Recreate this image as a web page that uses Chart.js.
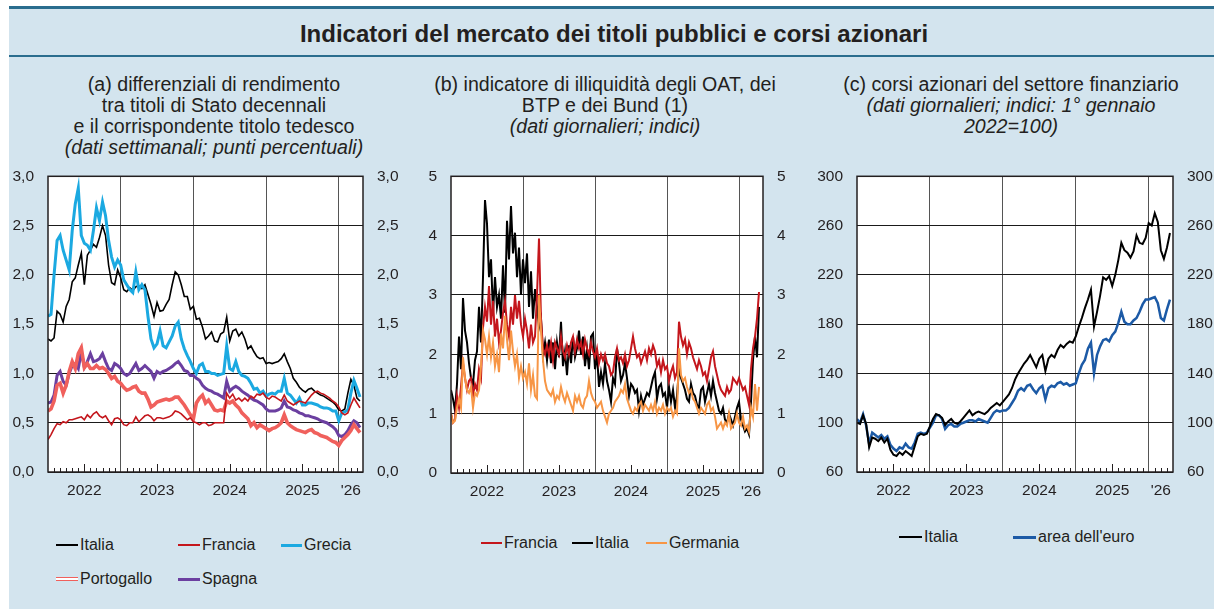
<!DOCTYPE html>
<html lang="it">
<head>
<meta charset="utf-8">
<script src="https://cdn.jsdelivr.net/npm/chart.js@4.4.1/dist/chart.umd.min.js"></script>
<style>
  body { margin: 0; width: 1214px; height: 609px; overflow: hidden; background: #fff; position: relative;
         font-family: "Liberation Sans", Arial, sans-serif; color: #231f20; }
  #sfondo { position: absolute; left: 9px; top: 6px; width: 1205px; height: 603px; background: #d3e4ee; }
  .riga { position: absolute; left: 9px; width: 1205px; background: #2a6d8e; }
  #titolo { position: absolute; left: 0; width: 1228px; top: 20px; text-align: center; font-weight: bold; font-size: 24px; }
  .sottotitolo { position: absolute; top: 74px; text-align: center; font-size: 19.6px; line-height: 21px; white-space: nowrap; }
  canvas { position: absolute; top: 153px; }
  .voce { position: absolute; display: flex; align-items: center; font-size: 16px; white-space: nowrap; height: 18px; }
  .tratto { display: inline-block; height: 2px; margin-right: 2px; }
  .doppio { display: inline-block; height: 2px; margin-right: 2px; background: #fff; border-top: 1px solid #f0605c; border-bottom: 1px solid #f0605c; }
</style>
</head>
<body>
<div id="sfondo"></div>
<div class="riga" style="top:6px;height:3px"></div>
<div class="riga" style="top:55px;height:2px"></div>
<div id="titolo">Indicatori del mercato dei titoli pubblici e corsi azionari</div>

<div class="sottotitolo" style="left:14px;width:400px">(a) differenziali di rendimento<br>tra titoli di Stato decennali<br>e il corrispondente titolo tedesco<br><i>(dati settimanali; punti percentuali)</i></div>
<div class="sottotitolo" style="left:405px;width:400px">(b) indicatore di illiquidità degli OAT, dei<br>BTP e dei Bund (1)<br><i>(dati giornalieri; indici)</i></div>
<div class="sottotitolo" style="left:811px;width:400px">(c) corsi azionari del settore finanziario<br><i>(dati giornalieri; indici: 1° gennaio<br>2022=100)</i></div>

<canvas id="graficoA" width="410" height="352" style="left:0px"></canvas>
<canvas id="graficoB" width="405" height="353" style="left:400px"></canvas>
<canvas id="graficoC" width="409" height="352" style="left:805px"></canvas>

<div class="voce" style="left:56px;top:536px"><span class="tratto" style="width:22px;background:#000"></span>Italia</div>
<div class="voce" style="left:178px;top:536px"><span class="tratto" style="width:22px;background:#c4161c"></span>Francia</div>
<div class="voce" style="left:281px;top:536px"><span class="tratto" style="width:21px;height:3px;background:#1ba9e1"></span>Grecia</div>
<div class="voce" style="left:56px;top:570px"><span class="doppio" style="width:22px"></span>Portogallo</div>
<div class="voce" style="left:178px;top:570px"><span class="tratto" style="width:22px;height:3px;background:#6b3fa0"></span>Spagna</div>

<div class="voce" style="left:481px;top:534px"><span class="tratto" style="width:21px;background:#c4161c"></span>Francia</div>
<div class="voce" style="left:572px;top:534px"><span class="tratto" style="width:21px;background:#000"></span>Italia</div>
<div class="voce" style="left:646px;top:534px"><span class="tratto" style="width:21px;background:#f79646"></span>Germania</div>

<div class="voce" style="left:899px;top:528px"><span class="tratto" style="width:23px;background:#000"></span>Italia</div>
<div class="voce" style="left:1013px;top:528px"><span class="tratto" style="width:23px;height:3px;background:#1c5aa6"></span>area dell'euro</div>

<script>
// asse temporale comune: da gennaio 2022 a fine aprile 2026
const inizio = 2022;
const fine = 2026 + 4 / 12;
const tacche = [2022, 2022.5, 2023, 2023.5, 2024, 2024.5, 2025, 2025.5, 2026, 2026 + 2 / 12, fine];

// (a) differenziali, un valore ogni mezzo mese
const passoA = 1 / 24;
const italiaA = [1.35,1.33,1.36,1.63,1.60,1.52,1.68,1.75,1.93,1.97, 2.10,2.22,1.90,2.20,2.25,2.31,2.28,2.38,2.50,2.40,
  2.10,1.92,1.90,2.05,1.97,1.85,1.83,1.87,1.84,1.88, 1.89,1.86,1.90,1.80,1.70,1.58,1.72,1.63,1.64,1.70,
  1.75,1.90,2.03,2.00,1.90,1.78,1.78,1.65,1.68,1.55, 1.56,1.47,1.35,1.38,1.42,1.33,1.32,1.40,1.42,1.57,
  1.33,1.43,1.45,1.38,1.42,1.35,1.25,1.28,1.22,1.17, 1.15,1.16,1.10,1.11,1.10,1.11,1.12,1.15,1.20,1.12,
  1.05,0.95,0.91,0.86,0.83,0.81,0.84,0.85,0.82,0.80, 0.78,0.77,0.75,0.73,0.71,0.68,0.63,0.62,0.64,0.80,
  0.94,0.88,0.75,0.72];
const franciaA = [0.33,0.38,0.44,0.49,0.48,0.51,0.50,0.53,0.53,0.54, 0.55,0.56,0.53,0.58,0.55,0.59,0.61,0.57,0.55,0.57,
  0.52,0.48,0.54,0.55,0.53,0.48,0.47,0.50,0.50,0.56, 0.51,0.54,0.57,0.58,0.56,0.52,0.55,0.55,0.54,0.55,
  0.56,0.58,0.62,0.61,0.59,0.56,0.53,0.55,0.51,0.50, 0.48,0.50,0.50,0.47,0.48,0.50,0.50,0.50,0.50,0.80,
  0.75,0.79,0.73,0.75,0.72,0.75,0.72,0.77,0.75,0.79, 0.78,0.80,0.76,0.74,0.77,0.76,0.74,0.72,0.78,0.72,
  0.70,0.68,0.70,0.72,0.71,0.70,0.74,0.78,0.81,0.82, 0.80,0.79,0.77,0.75,0.72,0.70,0.66,0.60,0.58,0.60,
  0.68,0.75,0.70,0.65];
const greciaA = [1.58,1.60,2.00,2.35,2.40,2.25,2.15,2.05,2.45,2.72, 2.88,2.40,2.32,2.30,2.25,2.45,2.68,2.55,2.74,2.60,
  2.35,2.18,2.08,2.15,2.10,1.95,1.90,1.85,1.82,2.03, 1.85,1.90,1.85,1.58,1.35,1.26,1.30,1.43,1.28,1.26,
  1.32,1.38,1.48,1.52,1.35,1.25,1.18,1.12,1.05,1.00, 1.08,1.10,1.02,1.02,1.00,1.00,0.98,0.99,1.00,1.28,
  1.05,1.03,1.12,1.02,0.98,0.97,0.95,0.90,0.84,0.85, 0.80,0.82,0.77,0.79,0.80,0.79,0.82,0.82,0.95,0.80,
  0.78,0.74,0.70,0.75,0.68,0.68,0.70,0.70,0.69,0.68, 0.66,0.65,0.65,0.64,0.62,0.62,0.52,0.60,0.61,0.63,
  0.80,0.93,0.85,0.76];
const portogalloA = [0.62,0.64,0.72,0.88,0.90,0.80,0.88,1.02,1.12,1.05, 1.20,1.26,1.06,1.10,1.05,1.05,1.08,1.05,1.06,1.04,
  1.00,0.95,0.97,0.92,0.90,0.86,0.83,0.84,0.86,0.87, 0.82,0.80,0.80,0.74,0.66,0.68,0.71,0.72,0.73,0.74,
  0.73,0.74,0.76,0.76,0.72,0.68,0.63,0.58,0.54,0.70, 0.75,0.78,0.70,0.73,0.68,0.63,0.62,0.63,0.62,0.72,
  0.70,0.72,0.68,0.65,0.60,0.57,0.54,0.47,0.50,0.45, 0.48,0.46,0.44,0.42,0.44,0.45,0.47,0.50,0.58,0.50,
  0.47,0.45,0.43,0.42,0.41,0.40,0.42,0.43,0.40,0.39, 0.37,0.36,0.35,0.33,0.31,0.30,0.27,0.32,0.35,0.38,
  0.42,0.48,0.44,0.40];
const spagnaA = [0.70,0.71,0.78,0.98,1.02,0.92,0.88,1.00,1.08,1.10, 1.05,1.22,1.06,1.12,1.20,1.12,1.13,1.15,1.20,1.12,
  1.05,1.03,1.10,1.08,1.05,1.00,0.98,1.00,1.05,1.10, 1.03,1.05,1.08,1.05,1.02,0.95,1.02,1.00,1.02,1.03,
  1.05,1.07,1.10,1.12,1.08,1.03,1.02,0.98,0.98,0.95, 0.93,0.88,0.85,0.83,0.82,0.80,0.79,0.77,0.75,0.92,
  0.82,0.85,0.87,0.85,0.82,0.80,0.78,0.75,0.73,0.72, 0.70,0.68,0.64,0.62,0.62,0.62,0.63,0.65,0.72,0.66,
  0.65,0.63,0.62,0.60,0.59,0.57,0.57,0.56,0.55,0.54, 0.52,0.51,0.50,0.48,0.46,0.43,0.37,0.36,0.38,0.42,
  0.48,0.52,0.50,0.45];

// (b) illiquidità, tre valori al mese
const passoB = 1 / 36;
const franciaB = [1.00,0.85,0.90,1.30,1.10,1.45,1.85,1.60,1.40,1.55, 1.60,1.30,1.50,1.40,1.75,1.60,2.45,2.80,2.55,3.15,
  2.50,2.90,2.30,2.60,2.20,2.40,2.70,2.90,2.50,2.30, 2.80,2.50,3.00,2.60,2.90,2.50,2.30,2.60,2.40,2.10,
  2.50,2.20,2.30,3.00,3.95,2.60,2.10,2.00,2.15,2.00, 2.20,1.90,2.20,2.10,2.00,2.30,2.05,1.95,2.15,2.00,
  2.20,2.30,2.05,2.25,2.10,2.20,2.00,2.25,2.10,2.00, 2.20,2.05,1.95,2.10,1.85,2.00,1.90,2.00,1.85,1.80,
  1.65,1.70,1.95,2.10,1.90,1.95,1.85,2.00,1.80,1.90, 2.10,2.30,2.10,1.95,2.00,1.85,1.95,2.05,1.90,2.10,
  2.00,2.15,2.05,1.80,1.90,1.70,1.90,1.75,1.80,1.55, 1.70,1.80,1.60,1.70,2.55,2.30,2.15,2.25,2.00,2.20,
  2.10,1.95,1.85,1.75,1.90,1.80,1.65,1.70,1.55,1.75, 1.95,2.05,1.80,1.65,1.50,1.40,1.35,1.30,1.45,1.35,
  1.40,1.60,1.55,1.50,1.60,1.50,1.40,1.45,1.30,1.15, 1.75,2.10,2.30,2.60,3.05];
const italiaB = [1.40,1.25,1.05,1.50,2.30,1.75,2.95,2.40,2.20,1.85, 1.60,1.50,1.90,2.05,2.80,2.20,3.30,4.60,4.20,3.30,
  3.60,2.70,3.30,2.80,3.00,2.60,3.50,2.70,4.25,3.60, 4.50,3.70,4.05,3.30,3.80,3.00,3.60,3.20,3.70,2.80,
  3.40,2.60,3.10,2.80,2.45,2.60,2.00,2.20,1.90,2.25, 1.85,2.20,1.75,2.20,1.95,2.55,1.80,2.05,1.65,2.15,
  1.85,2.30,1.95,2.10,2.40,2.00,2.30,1.80,2.10,1.75, 2.30,2.35,1.75,2.00,1.45,1.70,1.50,1.85,1.55,1.40,
  1.20,1.60,1.50,2.10,1.85,1.55,1.65,1.85,1.60,1.30, 1.50,1.45,1.35,1.40,1.05,1.30,1.15,1.25,1.35,1.30,
  1.45,1.60,1.70,1.25,1.45,1.50,1.30,1.35,1.10,1.45, 1.20,1.40,1.10,1.30,1.75,1.60,1.50,1.40,1.25,1.20,
  1.50,1.35,1.30,1.15,1.10,1.40,1.45,1.20,1.35,1.50, 1.30,1.55,1.35,1.20,1.05,1.00,1.10,0.90,0.85,1.00,
  0.90,0.80,0.95,1.10,1.20,0.90,0.80,0.70,0.75,0.65, 1.20,1.90,2.30,1.95,2.80];
const germaniaB = [1.00,0.85,0.88,1.10,1.25,1.10,1.95,1.60,1.40,1.35, 1.45,1.10,1.35,1.30,1.40,1.80,2.40,2.25,2.00,2.30,
  1.95,2.20,1.80,2.00,1.70,2.35,2.10,2.65,2.25,1.90, 2.40,2.05,1.80,2.00,1.60,1.80,1.60,1.70,1.50,1.85,
  1.40,1.65,1.30,1.25,3.00,2.40,1.90,1.55,1.40,1.35, 1.30,1.40,1.20,1.30,1.25,1.45,1.30,1.20,1.35,1.25,
  1.15,1.05,1.30,1.20,1.30,1.15,1.10,1.25,1.30,1.55, 1.35,1.25,1.20,1.10,1.15,1.20,1.05,0.95,0.85,1.00,
  1.05,1.10,1.20,1.25,1.30,1.40,1.35,1.50,1.25,1.15, 1.05,1.00,1.10,1.05,1.15,1.20,1.05,1.15,1.10,1.05,
  1.15,1.05,1.20,1.00,1.10,1.05,1.15,1.00,1.10,1.05, 1.10,0.95,1.05,1.00,2.10,1.65,1.55,1.60,1.45,1.35,
  1.40,1.25,1.20,1.10,1.00,1.10,1.05,1.00,1.15,1.20, 1.05,1.10,0.95,0.75,0.80,0.85,0.75,0.85,0.80,1.00,
  0.75,0.80,0.85,1.00,0.85,0.80,0.95,0.75,0.80,0.70, 1.10,0.95,1.50,1.05,1.45];

// (c) corsi azionari, un valore ogni mezzo mese
const passoC = 1 / 24;
const italiaC = [100,99,106,99,80,88,87,85,88,84, 87,78,74,73,76,74,77,75,73,81,
  89,91,90,91,97,103,107,106,104,98, 101,103,100,99,101,104,107,110,106,108,
  109,108,107,109,112,114,116,114,117,120, 123,128,135,140,144,148,151,155,150,145,
  152,155,142,152,155,153,159,163,161,164, 166,165,170,178,185,193,200,208,178,190,
  203,218,216,219,211,220,232,246,240,238, 234,239,252,246,245,250,262,260,270,263,
  240,233,242,254];
const euroC = [103,100,107,98,83,92,90,88,90,87, 89,82,79,77,80,79,83,80,79,84,
  91,92,91,92,96,100,106,106,103,95, 98,99,97,97,99,100,101,102,102,101,
  103,102,101,100,104,108,110,109,110,110, 112,116,120,126,128,126,130,131,127,124,
  128,130,119,128,130,129,132,133,131,132, 130,131,132,140,147,151,160,165,140,155,
  162,167,168,166,171,174,181,190,182,180, 180,183,185,190,196,200,200,201,202,197,
  185,183,192,200];

const coloreTesto = '#231f20';
const fontAssi = { family: '"Liberation Sans", Arial, sans-serif', size: 15.5 };

function punti(valori, passo) {
  return valori.map((v, i) => ({ x: inizio + i * passo, y: v }));
}

function etichettaAnno(v) {
  if (Math.abs(v - Math.floor(v) - 0.5) < 1e-6) return String(Math.floor(v));
  if (Math.abs(v - (2026 + 2 / 12)) < 1e-6) return "'26";
  return '';
}

// sfondo bianco, cornice e tacche mensili dentro l'area del grafico
const cornice = {
  id: 'cornice',
  beforeDraw(chart) {
    const { ctx, chartArea: a } = chart;
    ctx.save();
    ctx.fillStyle = '#fff';
    ctx.fillRect(a.left, a.top, a.width, a.height);
    ctx.restore();
  },
  afterDraw(chart) {
    const { ctx, chartArea: a, scales } = chart;
    ctx.save();
    ctx.strokeStyle = coloreTesto;
    ctx.lineWidth = 1;
    ctx.beginPath();
    for (let m = 1; m < 52; m++) {
      if (m % 12 === 0) continue;
      const px = Math.round(scales.x.getPixelForValue(inizio + m / 12)) + 0.5;
      const h = m % 12 === 6 ? 8 : 4;
      ctx.moveTo(px, a.bottom);
      ctx.lineTo(px, a.bottom - h);
    }
    ctx.stroke();
    ctx.lineWidth = 1.5;
    ctx.strokeRect(a.left, a.top, a.width, a.height);
    ctx.restore();
  }
};

function assiY(min, max, passo, formato, sinistra, destra) {
  const base = {
    type: 'linear', min: min, max: max,
    ticks: { stepSize: passo, padding: 14, color: coloreTesto, font: fontAssi, callback: formato },
    border: { display: false }
  };
  return {
    y: Object.assign({}, base, {
      position: 'left',
      grid: { drawTicks: false, color: '#1a1a1a', lineWidth: 1 },
      afterFit: s => { s.width = sinistra; }
    }),
    y2: Object.assign({}, base, {
      position: 'right',
      grid: { display: false, drawTicks: false },
      afterFit: s => { s.width = destra; }
    })
  };
}

function creaGrafico(id, datasets, scaleY) {
  const scales = Object.assign({
    x: {
      type: 'linear', min: inizio, max: fine,
      afterBuildTicks: s => { s.ticks = tacche.map(v => ({ value: v })); },
      ticks: { autoSkip: false, maxRotation: 0, padding: 9, color: coloreTesto, font: fontAssi, callback: etichettaAnno },
      grid: {
        drawTicks: false, lineWidth: 1,
        color: c => (c.tick && Number.isInteger(c.tick.value) && c.tick.value > inizio) ? '#555' : 'rgba(0,0,0,0)'
      },
      border: { display: false },
      afterFit: s => { s.height = 33; }
    }
  }, scaleY);

  return new Chart(document.getElementById(id), {
    type: 'line',
    data: { datasets: datasets },
    options: {
      responsive: false,
      animation: false,
      devicePixelRatio: 1,
      layout: { padding: { top: 10, left: 0, right: 0, bottom: 0 } },
      elements: { point: { radius: 0 }, line: { tension: 0 } },
      plugins: { legend: { display: false }, tooltip: { enabled: false } },
      scales: scales
    },
    plugins: [cornice]
  });
}

function serie(valori, passo, colore, spessore) {
  return { data: punti(valori, passo), borderColor: colore, borderWidth: spessore, fill: false, yAxisID: 'y' };
}

creaGrafico('graficoA', [
  serie(franciaA, passoA, '#c4161c', 1.6),
  serie(portogalloA, passoA, '#f0605c', 3.6),
  serie(portogalloA, passoA, '#ffffff', 1.6),
  serie(spagnaA, passoA, '#6b3fa0', 3),
  serie(greciaA, passoA, '#1ba9e1', 3),
  serie(italiaA, passoA, '#000000', 1.6)
], assiY(0, 3, 0.5, v => v.toFixed(1).replace('.', ','), 48, 47));

creaGrafico('graficoB', [
  serie(germaniaB, passoB, '#f79646', 2),
  serie(franciaB, passoB, '#c4161c', 2),
  serie(italiaB, passoB, '#000000', 2)
], assiY(0, 5, 1, v => String(v), 51, 42));

creaGrafico('graficoC', [
  serie(italiaC, passoC, '#000000', 2),
  serie(euroC, passoC, '#1c5aa6', 2.5)
], assiY(60, 300, 40, v => String(v), 52, 41));
</script>
</body>
</html>
